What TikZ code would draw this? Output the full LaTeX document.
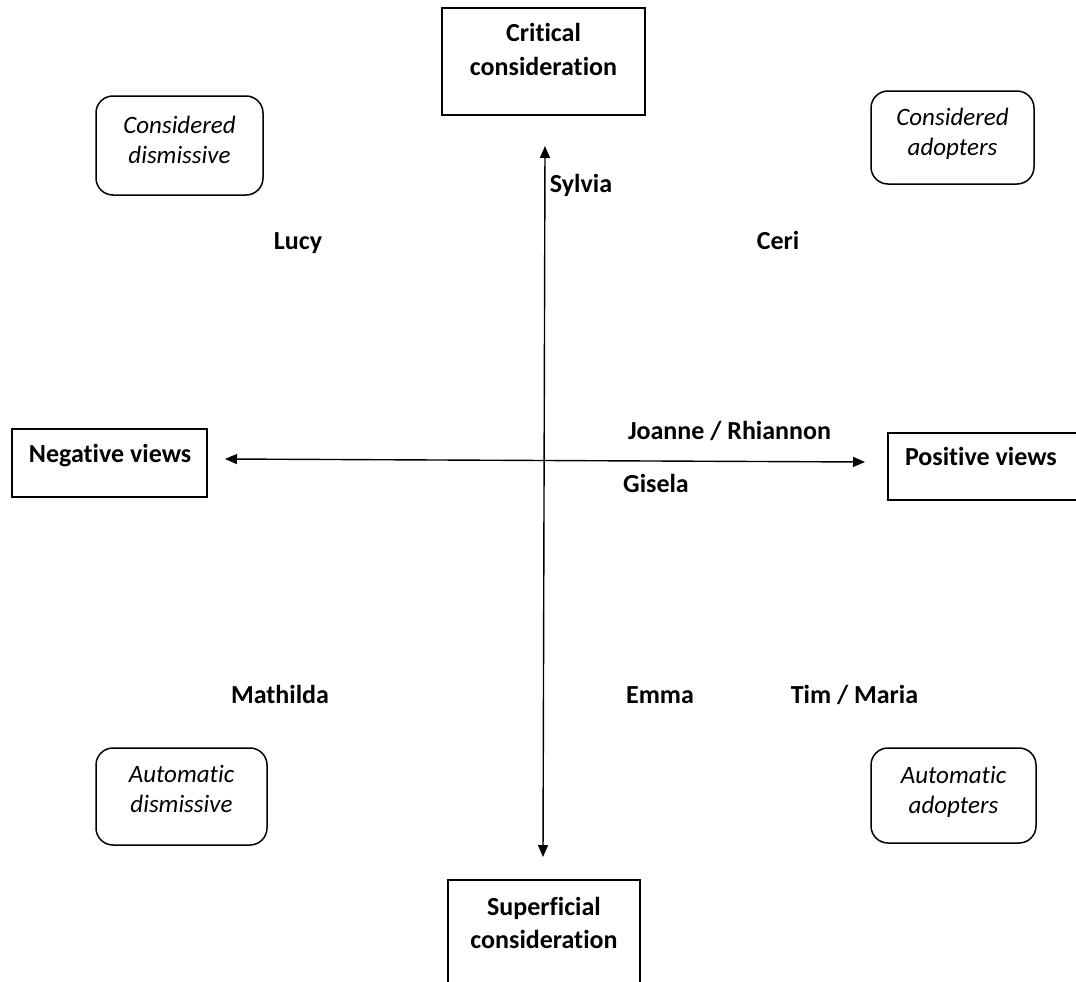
\documentclass[tikz,border=0pt]{standalone}
\usepackage{fontspec}
\setmainfont{Carlito}[Ligatures=NoCommon]
\usetikzlibrary{arrows.meta}
\newcommand\bx[5]{\parbox[c][#2][t]{#1}{#4\rule{0pt}{#3}#5}}
\tikzset{
  sqbox/.style={draw=black, line width=1.5pt, inner sep=0pt, font=\fontsize{26}{33}\selectfont\bfseries},
  rdbox/.style={draw=black, line width=1.5pt, inner sep=0pt, rounded corners=17pt, font=\fontsize{25}{30.5}\selectfont\itshape},
  who/.style={anchor=base, inner sep=0pt, font=\fontsize{26}{31}\selectfont\bfseries},
  axis/.style={line width=1.4pt, {Triangle[length=12pt,width=10pt]}-{Triangle[length=12pt,width=10pt]}}
}
\begin{document}
\begin{tikzpicture}[x=1pt,y=-1pt]
\useasboundingbox (0,0) rectangle (1076,982);
\clip (0,0) rectangle (1076,982);
% square boxes
\node[sqbox] (crit) at (543.5,61.5) {\bx{203pt}{107pt}{34pt}{\centering}{Critical\\consideration}};
\node[sqbox] (supf) at (544,940) {\bx{192pt}{120pt}{35pt}{\centering}{Superficial\\consideration}};
\node[sqbox] (neg) at (109.5,463) {\bx{195pt}{68pt}{33pt}{\hspace*{17pt}}{Negative views}};
\node[sqbox] (pos) at (989,466.5) {\bx{202pt}{67pt}{32pt}{\hspace*{17pt}}{Positive views}};
% rounded boxes
\node[rdbox] (cdis) at (179.5,145.5) {\bx{167pt}{99pt}{37pt}{\centering}{Considered\\dismissive}};
\node[rdbox] (cado) at (952.5,137.5) {\bx{163pt}{93pt}{34pt}{\centering}{Considered\\adopters}};
\node[rdbox] (adis) at (181.5,796.5) {\bx{171pt}{97pt}{34pt}{\centering}{Automatic\\dismissive}};
\node[rdbox] (aado) at (953.5,795.5) {\bx{165pt}{95pt}{35pt}{\centering}{Automatic\\adopters}};
% axes
\coordinate (vtop) at (545,146);
\coordinate (vbot) at (543,857);
\coordinate (hleft) at (225,459);
\coordinate (hright) at (865,462);
\draw[axis] (vtop) -- (vbot);
\draw[axis] (hleft) -- (hright);
% names
\node[who] (sylvia) at (581,192) {Sylvia};
\node[who] (lucy) at (298,249) {Lucy};
\node[who] (ceri) at (778,249) {Ceri};
\node[who] (joanne) at (729.5,439) {Joanne / Rhiannon};
\node[who] (gisela) at (656,492) {Gisela};
\node[who] (mathilda) at (280,703) {Mathilda};
\node[who] (emma) at (660,703) {Emma};
\node[who] (tim) at (854.5,703) {Tim / Maria};
\end{tikzpicture}
\end{document}
